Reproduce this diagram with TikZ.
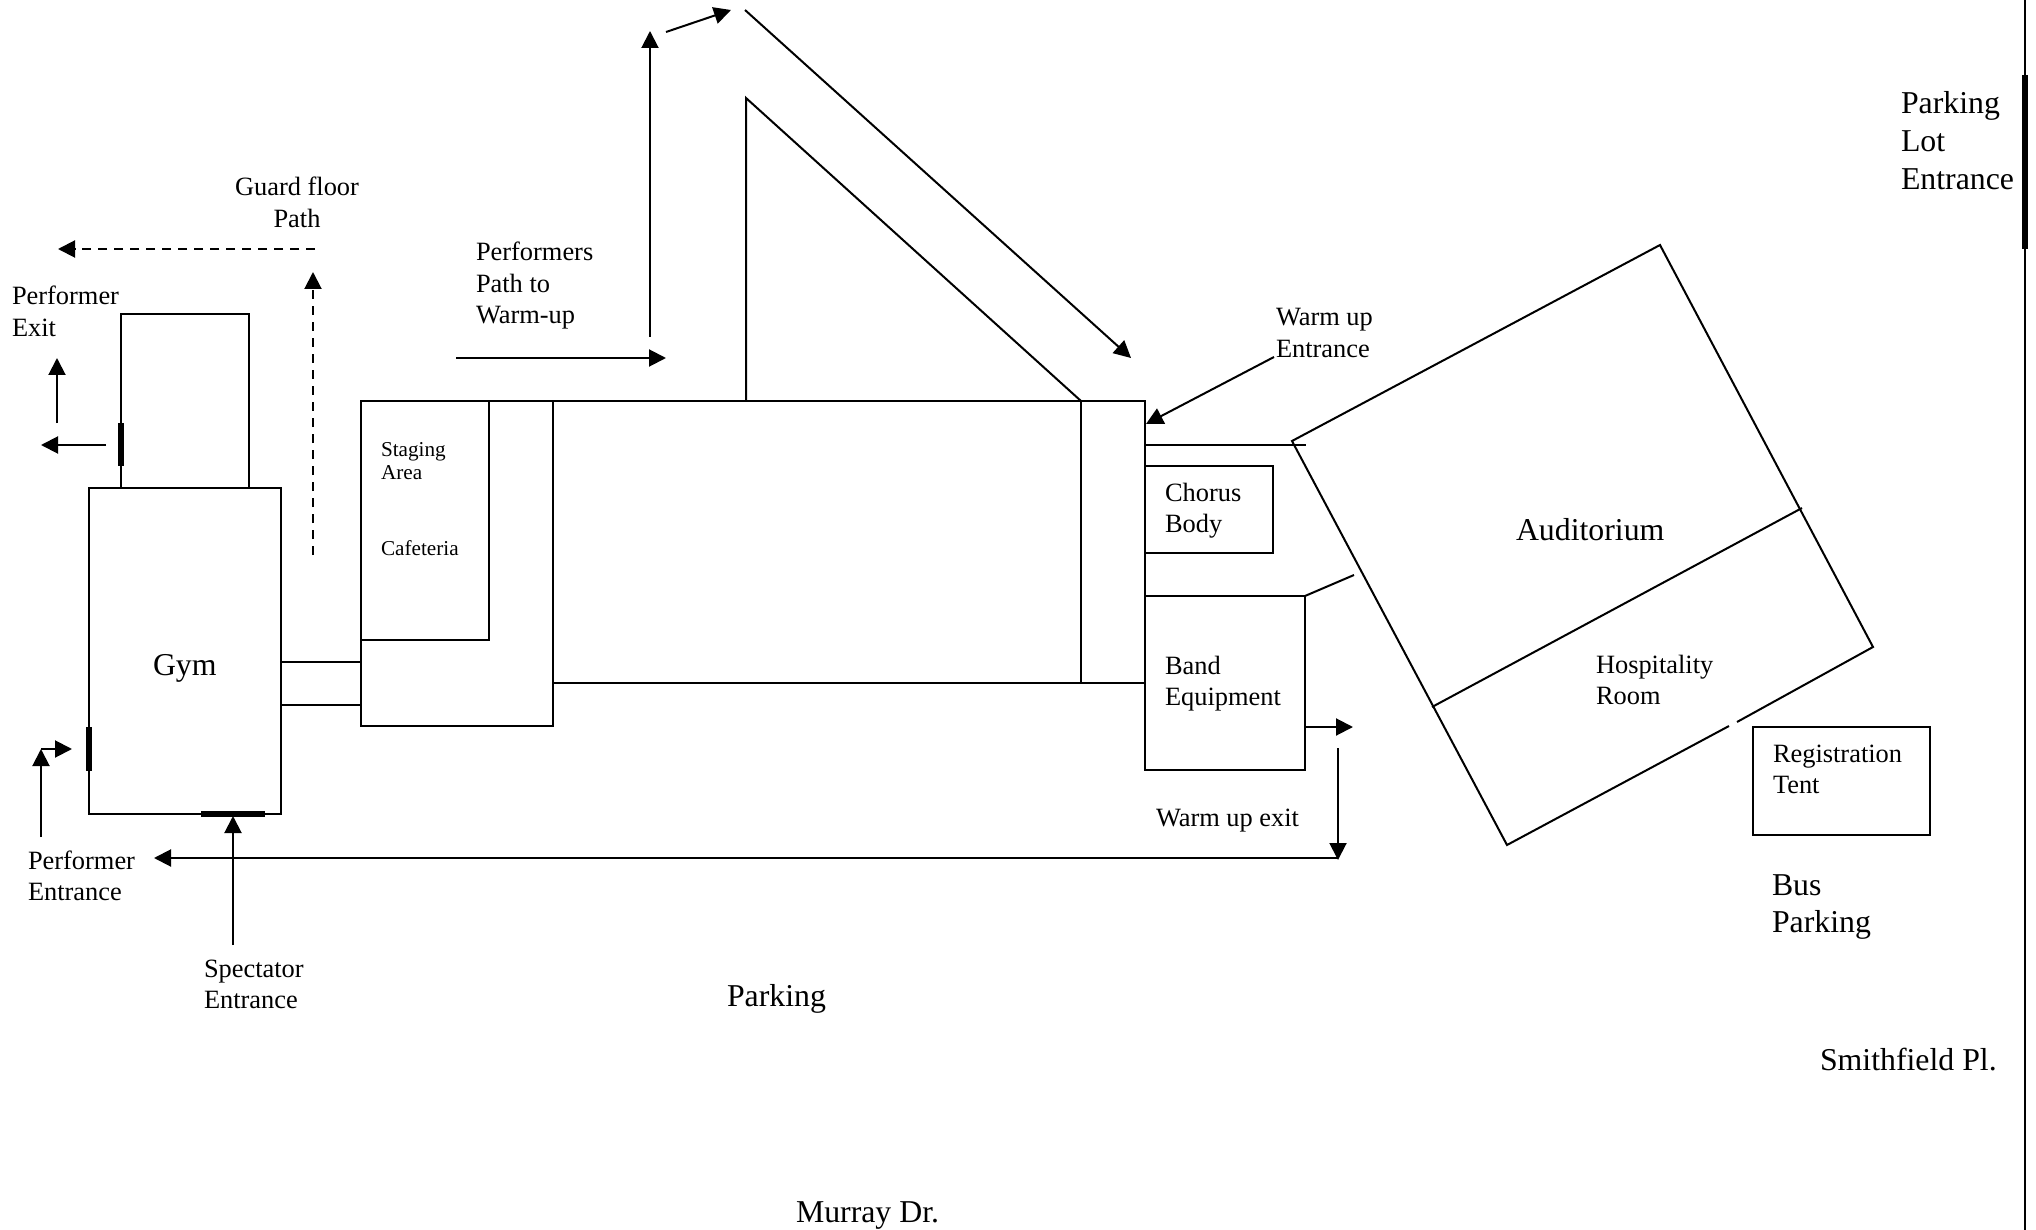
\documentclass[tikz,border=0pt]{standalone}
\usepackage{fontspec}
\setmainfont{Liberation Serif}
\usetikzlibrary{arrows.meta}
\newcommand{\LeftLines}[1]{\begin{tabular}[t]{@{}l@{}}#1\end{tabular}}
\newcommand{\MidLines}[1]{\begin{tabular}[t]{@{}c@{}}#1\end{tabular}}
\tikzset{
  wall/.style={line width=1pt,black},
  door/.style={line width=3pt,black},
  arrowline/.style={line width=1pt,black,-{Triangle[length=8.5pt,width=8.5pt]}},
  dashline/.style={arrowline,dash pattern=on 4.5pt off 3.5pt},
  txt/.style={inner sep=0pt,outer sep=0pt,anchor=base west,text=black},
  smalltxt/.style={txt,font=\fontsize{10.6}{11.5}\selectfont},
  midtxt/.style={txt,font=\fontsize{13.2}{15.6}\selectfont},
  bigtxt/.style={txt,font=\fontsize{15.9}{18.8}\selectfont}
}
\begin{document}
\begin{tikzpicture}[x=0.5pt,y=-0.5pt]
\useasboundingbox (0,0) rectangle (2036,1230);
% corner coordinates
\coordinate (ga) at (89,488);   \coordinate (gb) at (281,814);
\coordinate (ra) at (121,488);  \coordinate (rb) at (121,314);
\coordinate (rc) at (249,314);  \coordinate (rd) at (249,488);
\coordinate (ca) at (361,401);  \coordinate (cb) at (553,726);
\coordinate (sb) at (489,640);
\coordinate (ma) at (553,683);  \coordinate (mb) at (1145,683);
\coordinate (mc) at (1145,401); \coordinate (md) at (1081,401);
\coordinate (me) at (1081,683);
\coordinate (ta) at (746,401);  \coordinate (tb) at (746,98);
\coordinate (l1a) at (281,662); \coordinate (l1b) at (361,662);
\coordinate (l2a) at (281,705); \coordinate (l2b) at (361,705);
\coordinate (cha) at (1145,466);\coordinate (chb) at (1273,553);
\coordinate (baa) at (1145,596);\coordinate (bab) at (1305,770);
\coordinate (bac) at (1305,596);\coordinate (bad) at (1354,575);
\coordinate (wa) at (1145,445); \coordinate (wb) at (1306,445);
\coordinate (aa) at (1292,441); \coordinate (ab) at (1660,245);
\coordinate (ac) at (1873,647); \coordinate (ad) at (1507,845);
\coordinate (ae) at (1729,726); \coordinate (af) at (1737,722);
\coordinate (da) at (1432,707); \coordinate (db) at (1802,508);
\coordinate (tea) at (1753,727);\coordinate (teb) at (1930,835);
\coordinate (ea) at (2025,0);   \coordinate (eb) at (2025,1230);
% buildings
\draw[wall] (ga) rectangle (gb);
\draw[wall] (ra) -- (rb) -- (rc) -- (rd);
\draw[wall] (ca) rectangle (cb);
\draw[wall] (ca) -- (mc) -- (mb) -- (ma);
\draw[wall] (ca |- sb) -- (sb) -- (sb |- ca);
\draw[wall] (md) -- (me);
\draw[wall] (ta) -- (tb) -- (md);
\draw[wall] (l1a) -- (l1b);
\draw[wall] (l2a) -- (l2b);
\draw[wall] (cha) rectangle (chb);
\draw[wall] (baa) rectangle (bab);
\draw[wall] (bac) -- (bad);
\draw[wall] (wa) -- (wb);
\draw[wall] (mc) -- (baa);
\draw[wall] (ae) -- (ad) -- (aa) -- (ab) -- (ac) -- (af);
\draw[wall] (da) -- (db);
\draw[wall] (tea) rectangle (teb);
\draw[wall] (ea) -- (eb);
% doors
\coordinate (d1a) at (121,423); \coordinate (d1b) at (121,466);
\coordinate (d2a) at (89,727);  \coordinate (d2b) at (89,771);
\coordinate (d3a) at (201,814); \coordinate (d3b) at (265,814);
\coordinate (d4a) at (2025,75); \coordinate (d4b) at (2025,249);
\draw[door] (d1a) -- (d1b);
\draw[door] (d2a) -- (d2b);
\draw[door] (d3a) -- (d3b);
\draw[door] (d4a) -- (d4b);
% arrows
\coordinate (x1a) at (57,423);  \coordinate (x1b) at (57,358);
\coordinate (x2a) at (106,445); \coordinate (x2b) at (41,445);
\coordinate (g1a) at (313,555); \coordinate (g1b) at (313,272);
\coordinate (g2a) at (315,249); \coordinate (g2b) at (58,249);
\coordinate (p1a) at (456,358); \coordinate (p1b) at (666,358);
\coordinate (p2a) at (650,337); \coordinate (p2b) at (650,31);
\coordinate (p3a) at (666,32);  \coordinate (p3b) at (731,10);
\coordinate (p4a) at (745,10);  \coordinate (p4b) at (1131,358);
\coordinate (w1a) at (1274,357);\coordinate (w1b) at (1146,424);
\coordinate (b1a) at (1305,727);\coordinate (b1b) at (1353,727);
\coordinate (e1a) at (1338,748);\coordinate (e1b) at (1338,860);
\coordinate (e2a) at (1338,858);\coordinate (e2b) at (154,858);
\coordinate (s1a) at (233,945); \coordinate (s1b) at (233,816);
\coordinate (n1a) at (41,837);  \coordinate (n1b) at (41,749);
\coordinate (n2a) at (41,749);  \coordinate (n2b) at (72,749);
\draw[arrowline] (x1a) -- (x1b);
\draw[arrowline] (x2a) -- (x2b);
\draw[dashline] (g1a) -- (g1b);
\draw[dashline] (g2a) -- (g2b);
\draw[arrowline] (p1a) -- (p1b);
\draw[arrowline] (p2a) -- (p2b);
\draw[arrowline] (p3a) -- (p3b);
\draw[arrowline] (p4a) -- (p4b);
\draw[arrowline] (w1a) -- (w1b);
\draw[arrowline] (b1a) -- (b1b);
\draw[arrowline] (e1a) -- (e1b);
\draw[arrowline] (e2a) -- (e2b);
\draw[arrowline] (s1a) -- (s1b);
\draw[arrowline] (n1a) -- (n1b);
\draw[arrowline] (n2a) -- (n2b);
% labels
\node[midtxt] (tExit) at (12,305) {\LeftLines{Performer\\Exit}};
\node[midtxt,anchor=base] (tGuard) at (297,196) {\MidLines{Guard floor\\Path}};
\node[midtxt] (tPath) at (476,261) {\LeftLines{Performers\\Path to\\Warm-up}};
\node[smalltxt] (tStage) at (381,457) {\LeftLines{Staging\\Area}};
\node[smalltxt] (tCaf) at (381,555) {Cafeteria};
\node[bigtxt] (tGym) at (153,675) {Gym};
\node[midtxt] (tEnt) at (28,869) {\LeftLines{Performer\\Entrance}};
\node[midtxt] (tSpec) at (204,977) {\LeftLines{Spectator\\Entrance}};
\node[midtxt] (tWarm) at (1276,326) {\LeftLines{Warm up\\Entrance}};
\node[midtxt] (tCho) at (1165,501) {\LeftLines{Chorus\\Body}};
\node[midtxt] (tBand) at (1165,674) {\LeftLines{Band\\Equipment}};
\node[midtxt] (tExit2) at (1156,826) {Warm up exit};
\node[bigtxt] (tAud) at (1516,540) {Auditorium};
\node[midtxt] (tHosp) at (1596,673) {\LeftLines{Hospitality\\Room}};
\node[midtxt] (tReg) at (1773,762) {\LeftLines{Registration\\Tent}};
\node[bigtxt] (tBus) at (1772,895) {\LeftLines{Bus\\Parking}};
\node[bigtxt] (tPark) at (727,1006) {Parking};
\node[bigtxt] (tSmith) at (1820,1070) {Smithfield Pl.};
\node[bigtxt] (tMur) at (796,1222) {Murray Dr.};
\node[bigtxt] (tLot) at (1901,114) {\LeftLines{Parking\\Lot\\Entrance}};
\end{tikzpicture}
\end{document}
